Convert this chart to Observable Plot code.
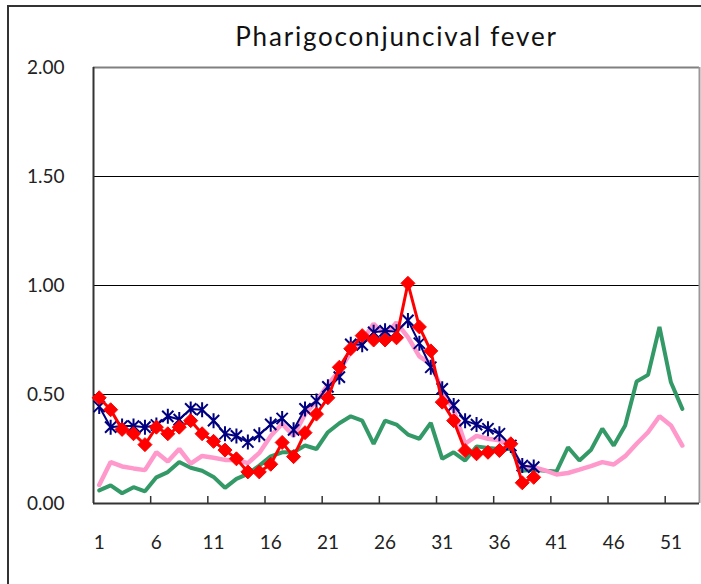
<!DOCTYPE html>
<html>
<head>
<meta charset="utf-8">
<script src="https://cdn.jsdelivr.net/npm/d3@7"></script>
<script src="https://cdn.jsdelivr.net/npm/@observablehq/plot@0.6"></script>
<style>
  html, body { margin: 0; padding: 0; background: #fff; }
  #wrap { position: relative; width: 701px; height: 584px; overflow: hidden; background: #fff; font-family: Lato, "Open Sans", sans-serif; }
  #frame { position: absolute; left: 7px; top: 5px; width: 760px; height: 660px; border: 2px solid #333; box-sizing: border-box; }
  #title { position: absolute; left: 93px; width: 607px; top: 20px; text-align: center; font-size: 26px; color: #111; letter-spacing: 1.8px; }
  #chart { position: absolute; left: 0; top: 40px; }
</style>
</head>
<body>
<div id="wrap">
  <div id="frame"></div>
  <div id="title">Pharigoconjuncival fever</div>
  <div id="chart"></div>
</div>
<script>
// Week labels shown on the x axis
const weekTicks = [1, 6, 11, 16, 21, 26, 31, 36, 41, 46, 51];
const weekCount = 53;
const yTicks = [0, 0.5, 1, 1.5, 2];

// Current year (red diamonds), weeks 1-39
const currentYear = [0.485, 0.43, 0.34, 0.32, 0.27, 0.35, 0.32, 0.35, 0.38, 0.32,
  0.285, 0.245, 0.205, 0.145, 0.145, 0.18, 0.28, 0.215, 0.325, 0.41,
  0.485, 0.625, 0.71, 0.77, 0.75, 0.75, 0.76, 1.01, 0.81, 0.70,
  0.465, 0.38, 0.243, 0.228, 0.235, 0.243, 0.274, 0.095, 0.12];

// Previous year (navy asterisks), weeks 1-39
const previousYear = [0.445, 0.35, 0.355, 0.355, 0.35, 0.36, 0.40, 0.385, 0.434, 0.43,
  0.38, 0.32, 0.31, 0.282, 0.315, 0.363, 0.39, 0.338, 0.434, 0.47,
  0.535, 0.58, 0.73, 0.728, 0.785, 0.792, 0.788, 0.84, 0.735, 0.625,
  0.526, 0.45, 0.38, 0.362, 0.343, 0.32, 0.266, 0.174, 0.167];

// Pink line, weeks 1-52
const pinkSeries = [0.085, 0.19, 0.17, 0.161, 0.153, 0.235, 0.193, 0.25, 0.183, 0.218,
  0.21, 0.2, 0.2, 0.185, 0.232, 0.31, 0.366, 0.31, 0.41, 0.47,
  0.545, 0.61, 0.694, 0.748, 0.824, 0.77, 0.83, 0.763, 0.675, 0.64,
  0.52, 0.43, 0.274, 0.31, 0.297, 0.29, 0.258, 0.167, 0.167, 0.152,
  0.133, 0.14, 0.155, 0.171, 0.19, 0.179, 0.217, 0.274, 0.327, 0.40,
  0.358, 0.266];

// Green line, weeks 1-52
const greenSeries = [0.06, 0.083, 0.047, 0.075, 0.056, 0.12, 0.144, 0.19, 0.164, 0.15,
  0.122, 0.072, 0.113, 0.136, 0.174, 0.216, 0.235, 0.235, 0.266, 0.25,
  0.327, 0.368, 0.40, 0.38, 0.274, 0.38, 0.362, 0.316, 0.297, 0.37,
  0.205, 0.235, 0.197, 0.262, 0.255, 0.25, 0.25, 0.15, 0.155, 0.15,
  0.147, 0.258, 0.197, 0.245, 0.343, 0.266, 0.358, 0.56, 0.59, 0.81,
  0.556, 0.434];

const rows = arr => arr.map((v, i) => ({week: i + 1, value: v}));
const red = rows(currentYear), navy = rows(previousYear), pink = rows(pinkSeries), green = rows(greenSeries);

// Boundaries between week groups (tick marks between categories)
const boundaries = weekTicks.slice(1).map(w => w - 0.5);

const diamond = {
  draw(ctx, size) {
    const r = Math.sqrt(size / Math.PI);
    ctx.moveTo(0, -r); ctx.lineTo(r, 0); ctx.lineTo(0, r); ctx.lineTo(-r, 0); ctx.closePath();
  }
};
const star = {
  draw(ctx, size) {
    const r = Math.sqrt(size / Math.PI);
    const d = r * 0.75;
    ctx.moveTo(0, -r); ctx.lineTo(0, r);
    ctx.moveTo(-d, -d); ctx.lineTo(d, d);
    ctx.moveTo(-d, d); ctx.lineTo(d, -d);
  }
};

const chart = Plot.plot({
  width: 701,
  height: 544,
  marginLeft: 93,
  marginRight: 2,
  marginTop: 27,
  marginBottom: 81,
  style: {fontFamily: "Lato, 'Open Sans', sans-serif", fontSize: "19px", color: "#222", background: "transparent"},
  x: {type: "linear", domain: [0.5, weekCount + 0.5], label: null},
  y: {domain: [0, 2], label: null},
  marks: [
    Plot.axisX(weekTicks, {tickSize: 0, tickPadding: 32, tickFormat: d => String(d), fontSize: 19, label: null}),
    Plot.axisY(yTicks, {tickSize: 0, tickPadding: 29, tickFormat: d3.format(".2f"), fontSize: 19, label: null}),
    Plot.ruleY([0.5, 1, 1.5], {stroke: "#000", strokeWidth: 1}),
    Plot.ruleY([2], {stroke: "#808080", strokeWidth: 2}),
    Plot.ruleX([weekCount + 0.5], {stroke: "#999", strokeWidth: 2}),
    Plot.ruleX([0.5], {stroke: "#333", strokeWidth: 2}),
    Plot.ruleX(boundaries, {y1: 0, y2: 0.032, stroke: "#333", strokeWidth: 1.5}),
    Plot.line(green, {x: "week", y: "value", stroke: "#339966", strokeWidth: 4, strokeLinejoin: "miter"}),
    Plot.line(pink, {x: "week", y: "value", stroke: "#FF99CC", strokeWidth: 4.5, strokeLinejoin: "miter"}),
    Plot.line(navy, {x: "week", y: "value", stroke: "#000080", strokeWidth: 2}),
    Plot.dot(navy, {x: "week", y: "value", symbol: star, r: 7.5, stroke: "#000080", strokeWidth: 2, fill: "none"}),
    Plot.line(red, {x: "week", y: "value", stroke: "#FF0000", strokeWidth: 3}),
    Plot.dot(red, {x: "week", y: "value", symbol: diamond, r: 7, fill: "#FF0000", stroke: "#FF0000", strokeWidth: 1}),
    Plot.ruleY([0], {stroke: "#333", strokeWidth: 2})
  ]
});
document.getElementById("chart").appendChild(chart);
</script>
</body>
</html>
